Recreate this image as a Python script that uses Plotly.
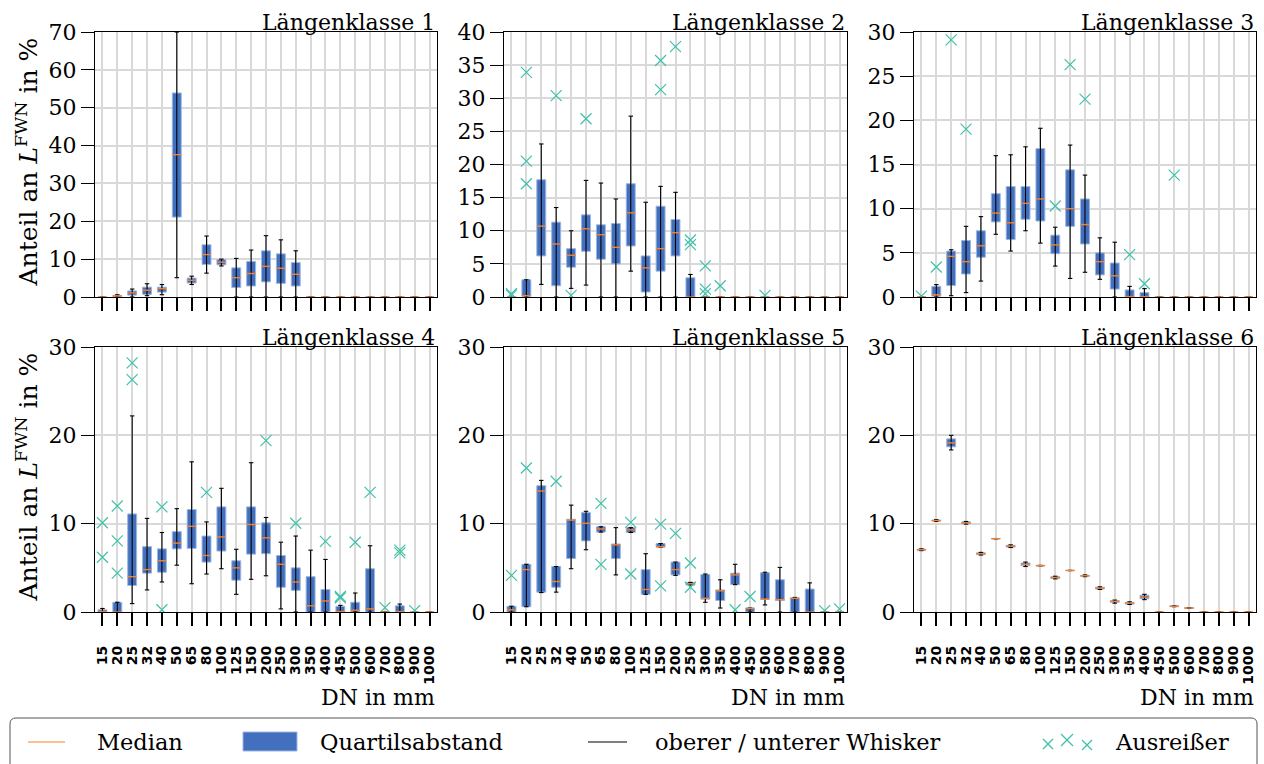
import plotly.graph_objects as go

W, H = 1264, 764

DN = ["15", "20", "25", "32", "40", "50", "65", "80", "100", "125", "150", "200",
      "250", "300", "350", "400", "450", "500", "600", "700", "800", "900", "1000"]

# ---------------- Längenklasse 1 ----------------
P1_Q1 = [0, 0.1, 0.5, 0.7, 1.3, 21.1, 3.7, 8.6, 8.5, 2.5, 2.9, 4.0, 3.6, 2.9, 0, 0, 0, 0, 0, 0, 0, 0, 0]
P1_MED = [0, 0.3, 1.1, 1.8, 2.2, 37.6, 4.4, 11.2, 9.2, 5.1, 6.2, 8.1, 7.6, 6.0, 0, 0, 0, 0, 0, 0, 0, 0, 0]
P1_Q3 = [0, 0.4, 1.6, 2.6, 2.6, 53.9, 5.0, 13.8, 9.9, 7.7, 9.4, 12.2, 11.4, 9.1, 0, 0, 0, 0, 0, 0, 0, 0, 0]
P1_WLO = [0, 0, 0, 0.35, 0.6, 5.1, 3.3, 6.3, 8.2, 0, 0, 0, 0, 0, 0, 0, 0, 0, 0, 0, 0, 0, 0]
P1_WHI = [0, 0.6, 2.1, 3.5, 3.3, 70, 5.5, 16.1, 10.0, 10.2, 12.4, 16.2, 15.1, 12.2, 0, 0, 0, 0, 0, 0, 0, 0, 0]
P1_OUT = [[] for _ in range(23)]

# ---------------- Längenklasse 2 ----------------
P2_Q1 = [0, 0.1, 6.2, 1.7, 4.5, 6.9, 5.7, 5.0, 7.7, 0.75, 3.9, 6.2, 0, 0, 0, 0, 0, 0, 0, 0, 0, 0, 0]
P2_MED = [0, 0.2, 10.7, 8.0, 6.3, 10.3, 9.4, 7.5, 12.7, 4.4, 7.3, 9.7, 0, 0, 0, 0, 0, 0, 0, 0, 0, 0, 0]
P2_Q3 = [0, 2.6, 17.7, 11.3, 7.3, 12.4, 10.9, 11.1, 17.1, 6.2, 13.7, 11.7, 2.9, 0, 0, 0, 0, 0, 0, 0, 0, 0, 0]
P2_WLO = [0, 0, 1.9, 0, 1.3, 1.8, 0, 0, 3.9, 0, 0, 0, 0, 0, 0, 0, 0, 0, 0, 0, 0, 0, 0]
P2_WHI = [0, 2.6, 23.1, 13.5, 10.0, 17.6, 17.2, 14.8, 27.3, 14.3, 16.7, 15.8, 3.4, 0, 0, 0, 0, 0, 0, 0, 0, 0, 0]
P2_OUT = [[0.5, 0.3], [33.9, 20.5, 17.1], [], [30.4], [0.25], [26.9], [], [], [], [],
          [35.7, 31.3], [37.8], [8.6, 7.9], [4.7, 1.2, 0.5], [1.7], [], [], [0.25], [], [], [], [], []]

# ---------------- Längenklasse 3 ----------------
P3_Q1 = [0, 0.1, 1.3, 2.6, 4.5, 8.5, 6.5, 8.8, 8.6, 4.9, 8.0, 6.0, 2.5, 0.9, 0, 0, 0, 0, 0, 0, 0, 0, 0]
P3_MED = [0, 0.25, 4.6, 4.0, 5.8, 9.5, 8.4, 10.6, 11.1, 5.9, 10.0, 8.2, 4.0, 2.4, 0.05, 0.05, 0, 0, 0, 0, 0, 0, 0]
P3_Q3 = [0, 1.2, 5.2, 6.4, 7.5, 11.7, 12.5, 12.5, 16.8, 7.0, 14.4, 11.1, 5.0, 3.85, 0.8, 0.5, 0, 0, 0, 0, 0, 0, 0]
P3_WLO = [0, 0, 0.15, 0.5, 1.8, 7.1, 5.2, 7.5, 6.1, 3.5, 2.1, 2.8, 2.0, 0, 0, 0, 0, 0, 0, 0, 0, 0, 0]
P3_WHI = [0, 1.4, 5.35, 8.0, 9.1, 16.0, 16.1, 17.0, 19.1, 7.9, 17.2, 13.8, 6.7, 6.2, 1.2, 0.95, 0, 0, 0, 0, 0, 0, 0]
P3_OUT = [[0.1], [3.4], [29.1], [19.0], [], [], [], [], [], [10.3], [26.3], [22.4], [], [],
          [4.8], [1.5], [], [13.8], [], [], [], [], []]

# ---------------- Längenklasse 4 ----------------
P4_Q1 = [0, 0, 3.0, 4.4, 4.5, 7.15, 7.2, 5.65, 6.9, 3.6, 6.55, 6.6, 2.8, 2.45, 0, 0, 0, 0, 0, 0, 0, 0, 0]
P4_MED = [0.05, 0, 4.0, 4.8, 5.8, 7.8, 9.7, 6.4, 8.5, 5.0, 9.9, 8.4, 5.4, 3.4, 0.7, 1.25, 0.05, 0.2, 0.35, 0, 0.05, 0, 0]
P4_Q3 = [0.25, 1.1, 11.1, 7.4, 7.15, 9.1, 11.6, 8.6, 11.9, 5.8, 11.9, 10.1, 6.4, 5.0, 4.0, 2.55, 0.65, 1.1, 4.9, 0, 0.7, 0, 0]
P4_WLO = [0, 0, 0.95, 2.5, 3.4, 5.3, 3.2, 4.3, 4.9, 2.0, 3.7, 4.1, 0.35, 0, 0, 0, 0, 0, 0, 0, 0, 0, 0]
P4_WHI = [0.4, 1.1, 22.2, 10.6, 9.0, 11.7, 17.0, 10.2, 14.0, 7.1, 16.9, 10.7, 7.9, 8.6, 7.0, 5.95, 0.75, 2.15, 7.5, 0, 0.9, 0, 0]
P4_OUT = [[10.1, 6.2], [12.0, 8.05, 4.4], [28.2, 26.3], [], [11.9, 0.25], [], [], [13.55], [], [], [],
          [19.4], [], [10.05], [], [8.0], [1.75, 1.6], [7.9], [13.55], [0.5], [7.0, 6.7], [0.15], []]

# ---------------- Längenklasse 5 ----------------
P5_Q1 = [0, 0.6, 2.25, 2.8, 6.05, 8.05, 9.05, 6.05, 9.0, 2.0, 7.35, 4.2, 3.05, 1.45, 1.3, 3.1, 0, 1.45, 1.3, 0, 0, 0, 0]
P5_MED = [0.25, 4.8, 13.7, 3.45, 10.4, 10.05, 9.4, 7.6, 9.3, 2.55, 7.4, 4.8, 3.2, 1.55, 2.4, 4.2, 0.4, 1.45, 1.4, 1.55, 0, 0, 0]
P5_Q3 = [0.65, 5.4, 14.3, 5.15, 10.5, 11.25, 9.65, 7.7, 9.55, 4.8, 7.75, 5.65, 3.35, 4.25, 2.5, 4.4, 0.45, 4.45, 3.65, 1.6, 2.6, 0, 0]
P5_WLO = [0, 0.6, 2.2, 2.25, 4.9, 7.05, 9.05, 4.2, 9.0, 2.0, 7.35, 4.15, 3.05, 1.1, 0.45, 3.1, 0, 0.8, 0, 0, 0, 0, 0]
P5_WHI = [0.65, 5.4, 14.9, 5.15, 12.1, 11.4, 9.65, 9.55, 9.55, 6.6, 7.75, 5.65, 3.35, 4.3, 3.65, 5.4, 0.45, 4.5, 5.05, 1.65, 3.3, 0, 0]
P5_OUT = [[4.15], [16.3], [], [14.8], [], [], [12.3, 5.4], [], [10.15, 4.3], [], [9.95, 2.95],
          [8.9], [5.55, 2.8], [], [], [0.25], [1.75], [], [], [], [], [0.15], [0.35]]

# ---------------- Längenklasse 6 ----------------
P6_Q1 = [7.0, 10.3, 18.7, 10.0, 6.5, 8.28, 7.35, 5.25, 5.22, 3.8, 4.68, 4.05, 2.6, 1.1, 0.9, 1.5, 0, 0.6, 0.4, 0, 0, 0, 0]
P6_MED = [7.05, 10.35, 19.15, 10.1, 6.6, 8.3, 7.45, 5.4, 5.25, 3.9, 4.7, 4.1, 2.7, 1.2, 1.0, 1.7, 0, 0.65, 0.45, 0, 0, 0, 0]
P6_Q3 = [7.1, 10.4, 19.6, 10.2, 6.7, 8.32, 7.55, 5.55, 5.28, 4.0, 4.72, 4.15, 2.8, 1.3, 1.1, 1.9, 0, 0.7, 0.5, 0, 0, 0, 0]
P6_WLO = [6.95, 10.25, 18.35, 9.95, 6.45, 8.28, 7.3, 5.15, 5.22, 3.75, 4.68, 4.0, 2.55, 1.0, 0.85, 1.4, 0, 0.6, 0.4, 0, 0, 0, 0]
P6_WHI = [7.15, 10.45, 20.0, 10.25, 6.75, 8.32, 7.6, 5.65, 5.28, 4.05, 4.72, 4.2, 2.85, 1.35, 1.15, 2.0, 0, 0.7, 0.5, 0, 0, 0, 0]
P6_OUT = [[] for _ in range(23)]

TITLES = ["Längenklasse 1", "Längenklasse 2", "Längenklasse 3",
          "Längenklasse 4", "Längenklasse 5", "Längenklasse 6"]
YMAX = [70, 40, 30, 30, 30, 30]
YDTICK = [10, 5, 5, 10, 10, 10]

PANELS = [
    (P1_Q1, P1_MED, P1_Q3, P1_WLO, P1_WHI, P1_OUT),
    (P2_Q1, P2_MED, P2_Q3, P2_WLO, P2_WHI, P2_OUT),
    (P3_Q1, P3_MED, P3_Q3, P3_WLO, P3_WHI, P3_OUT),
    (P4_Q1, P4_MED, P4_Q3, P4_WLO, P4_WHI, P4_OUT),
    (P5_Q1, P5_MED, P5_Q3, P5_WLO, P5_WHI, P5_OUT),
    (P6_Q1, P6_MED, P6_Q3, P6_WLO, P6_WHI, P6_OUT),
]

BLUE = "#4270BF"
BLUE_EDGE = "#9DB6E0"
ORANGE = "#F5822F"
TEAL = "#3EC1A9"
GRID = "#D9D9D9"
SERIF = "DejaVu Serif"

COLS_PX = [(95, 437), (504, 847), (914, 1256)]
ROWS_PX = [(32, 297), (347, 612)]


def px_x(p):
    return p / W


def px_y(p):
    return 1 - p / H


fig = go.Figure()
layout = dict(width=W, height=H, margin=dict(l=0, r=0, t=0, b=0, autoexpand=False),
              paper_bgcolor="white", plot_bgcolor="white", showlegend=False,
              barmode="overlay")
annotations = []
shapes = []

BOXW = 0.6
CAPW = 0.3
idx = list(range(len(DN)))

for k, (q1, med, q3, wlo, whi, out) in enumerate(PANELS):
    r, c = divmod(k, 3)
    n = k + 1
    xa = "x" if n == 1 else f"x{n}"
    ya = "y" if n == 1 else f"y{n}"

    # whiskers
    wx, wy = [], []
    for i in idx:
        wx += [i, i, None]
        wy += [wlo[i], whi[i], None]
    fig.add_trace(go.Scatter(x=wx, y=wy, mode="lines", xaxis=xa, yaxis=ya,
                             line=dict(color="black", width=1.1), hoverinfo="skip"))
    # boxes
    fig.add_trace(go.Bar(x=idx, y=[q3[i] - q1[i] for i in idx], base=q1, width=BOXW,
                         xaxis=xa, yaxis=ya,
                         marker=dict(color=BLUE, line=dict(color=BLUE_EDGE, width=1))))
    # caps
    cx, cy = [], []
    for i in idx:
        for v in (wlo[i], whi[i]):
            cx += [i - CAPW / 2, i + CAPW / 2, None]
            cy += [v, v, None]
    fig.add_trace(go.Scatter(x=cx, y=cy, mode="lines", xaxis=xa, yaxis=ya,
                             line=dict(color="black", width=1.1), hoverinfo="skip"))
    # medians
    mx, my = [], []
    for i in idx:
        mx += [i - BOXW / 2, i + BOXW / 2, None]
        my += [med[i], med[i], None]
    fig.add_trace(go.Scatter(x=mx, y=my, mode="lines", xaxis=xa, yaxis=ya, cliponaxis=False,
                             line=dict(color=ORANGE, width=1.4), hoverinfo="skip"))
    # outliers
    ox, oy = [], []
    for i in idx:
        for v in out[i]:
            ox.append(i)
            oy.append(v)
    if ox:
        fig.add_trace(go.Scatter(x=ox, y=oy, mode="markers", xaxis=xa, yaxis=ya,
                                 marker=dict(symbol="x-thin", size=11, color=TEAL,
                                             line=dict(color=TEAL, width=1.2))))

    x0, x1 = COLS_PX[c]
    y0, y1 = ROWS_PX[r]
    xkey = "xaxis" if n == 1 else f"xaxis{n}"
    ykey = "yaxis" if n == 1 else f"yaxis{n}"
    layout[xkey] = dict(domain=[px_x(x0), px_x(x1)], anchor=ya, range=[-0.5, 22.5],
                        automargin=False,
                        tickmode="array", tickvals=idx, ticktext=DN,
                        showticklabels=(r == 1), tickangle=-90,
                        tickfont=dict(family="DejaVu Sans", size=14, color="black", weight="bold"),
                        ticks="outside", ticklen=13, tickwidth=2, tickcolor="black",
                        ticklabelstandoff=14,
                        showgrid=True, gridcolor=GRID, gridwidth=2,
                        showline=True, linecolor="black", linewidth=1.3, mirror=True,
                        zeroline=False, layer="below traces", fixedrange=True)
    layout[ykey] = dict(domain=[px_y(y1), px_y(y0)], anchor=xa, range=[0, YMAX[k]],
                        automargin=False,
                        dtick=YDTICK[k], tick0=0,
                        tickfont=dict(family=SERIF, size=22, color="black"),
                        ticks="outside", ticklen=13, tickwidth=1.3, tickcolor="black",
                        showgrid=True, gridcolor=GRID, gridwidth=2,
                        showline=True, linecolor="black", linewidth=1.3, mirror=True,
                        zeroline=False, layer="below traces", fixedrange=True)

    annotations.append(dict(text=TITLES[k], xref="paper", yref="paper",
                            x=px_x(x1), y=px_y(y0), xanchor="right", yanchor="bottom",
                            yshift=-5, showarrow=False,
                            font=dict(family=SERIF, size=22, color="black")))
    if r == 1:
        annotations.append(dict(text="DN in mm", xref="paper", yref="paper",
                                x=px_x(x1), y=px_y(697), xanchor="right", yanchor="middle",
                                showarrow=False, font=dict(family=SERIF, size=22, color="black")))
    if c == 0:
        annotations.append(dict(text="Anteil an <i>L</i><sup>FWN</sup> in %", xref="paper",
                                yref="paper", x=px_x(27), y=px_y((y0 + y1) / 2 - 2),
                                xanchor="center", yanchor="middle", textangle=-90,
                                showarrow=False, font=dict(family=SERIF, size=25, color="black")))

# ---------------- legend (drawn) ----------------
L, R, T, B, rad = 10, 1257, 718, 790, 6
path = (f"M {px_x(L + rad)},{px_y(T)} L {px_x(R - rad)},{px_y(T)} "
        f"Q {px_x(R)},{px_y(T)} {px_x(R)},{px_y(T + rad)} L {px_x(R)},{px_y(B)} "
        f"L {px_x(L)},{px_y(B)} L {px_x(L)},{px_y(T + rad)} "
        f"Q {px_x(L)},{px_y(T)} {px_x(L + rad)},{px_y(T)} Z")
shapes.append(dict(type="path", xref="paper", yref="paper", path=path,
                   line=dict(color="#555555", width=1), fillcolor="white", layer="above"))
LY = 742
shapes.append(dict(type="line", xref="paper", yref="paper", x0=px_x(28), x1=px_x(65),
                   y0=px_y(LY), y1=px_y(LY), line=dict(color=ORANGE, width=1.2)))
shapes.append(dict(type="rect", xref="paper", yref="paper", x0=px_x(243), x1=px_x(297),
                   y0=px_y(751), y1=px_y(732), fillcolor=BLUE,
                   line=dict(color=BLUE_EDGE, width=1)))
shapes.append(dict(type="line", xref="paper", yref="paper", x0=px_x(588), x1=px_x(627),
                   y0=px_y(LY), y1=px_y(LY), line=dict(color="black", width=1.1)))
for cxp, cyp, s in [(1048, 744, 5), (1067, 740, 6), (1087, 745, 5)]:
    shapes.append(dict(type="line", xref="paper", yref="paper", x0=px_x(cxp - s), x1=px_x(cxp + s),
                       y0=px_y(cyp - s), y1=px_y(cyp + s), line=dict(color=TEAL, width=1.2)))
    shapes.append(dict(type="line", xref="paper", yref="paper", x0=px_x(cxp - s), x1=px_x(cxp + s),
                       y0=px_y(cyp + s), y1=px_y(cyp - s), line=dict(color=TEAL, width=1.2)))

for txt, xl in [("Median", 95), ("Quartilsabstand", 318), ("oberer / unterer Whisker", 653),
                ("Ausreißer", 1113)]:
    annotations.append(dict(text=txt, xref="paper", yref="paper", x=px_x(xl), y=px_y(LY),
                            xanchor="left", yanchor="middle", showarrow=False,
                            font=dict(family=SERIF, size=22.5, color="black")))

layout["annotations"] = annotations
layout["shapes"] = shapes
fig.update_layout(**layout)
fig.write_html("out.html")
